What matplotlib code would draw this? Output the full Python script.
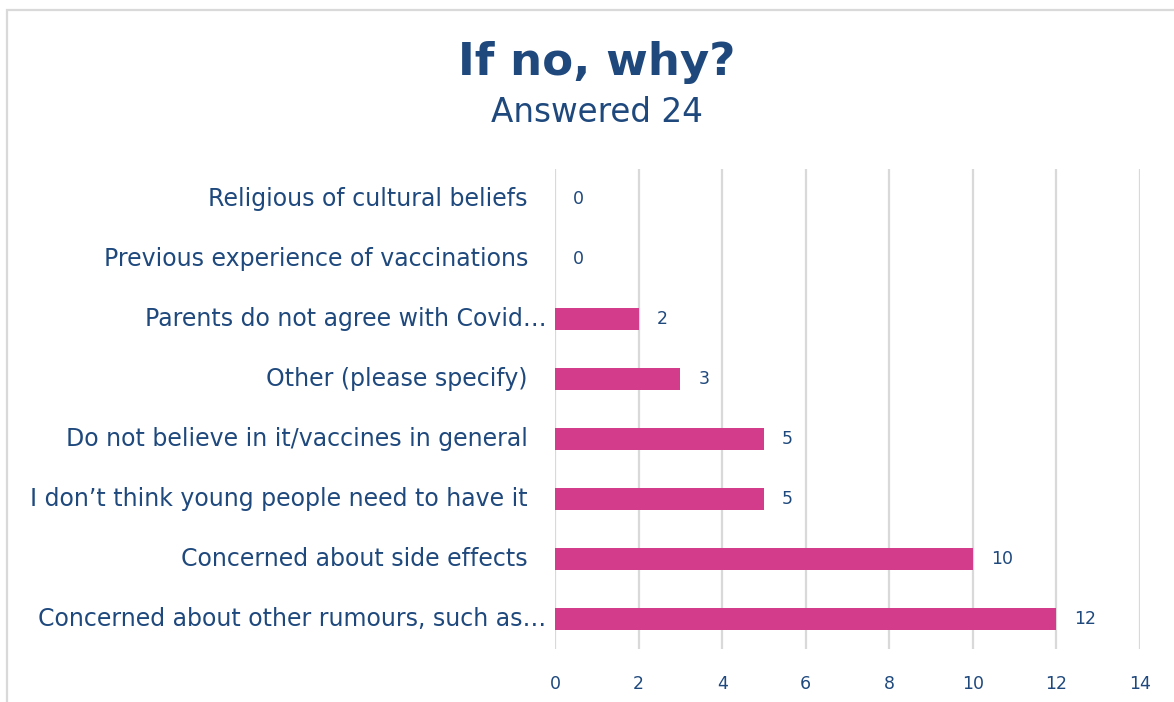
import matplotlib
matplotlib.use("Agg")
import matplotlib.pyplot as plt
from matplotlib.patches import Rectangle

categories = [
    "Concerned about other rumours, such as…",
    "Concerned about side effects",
    "I don’t think young people need to have it",
    "Do not believe in it/vaccines in general",
    "Other (please specify)",
    "Parents do not agree with Covid…",
    "Previous experience of vaccinations",
    "Religious of cultural beliefs",
]
values = [12, 10, 5, 5, 3, 2, 0, 0]
xticks = [0, 2, 4, 6, 8, 10, 12, 14]

TEXT = "#1F497D"
BAR = "#D33C8A"
GRID = "#D9D9D9"
FONT = "DejaVu Sans"

W, H = 1174, 702
fig = plt.figure(figsize=(W / 100, H / 100), dpi=100)
fig.patch.set_facecolor("white")

# outer chart border
fig.patches.append(Rectangle((7 / W, -0.2), 1.2, 1.2 - 10 / H,
                             transform=fig.transFigure, fill=False,
                             edgecolor=GRID, linewidth=1.6))

ax = fig.add_axes([555 / W, 1 - 649 / H, (1140 - 555) / W, (649 - 169) / H])
y = list(range(len(categories)))
ax.barh(y, values, height=0.37, color=BAR, zorder=3)
ax.set_ylim(-0.5, len(categories) - 0.5)
ax.set_xlim(0, 14)
ax.set_xticks(xticks)
ax.set_xticklabels([str(t) for t in xticks], fontsize=12.5, color=TEXT, family=FONT)
ax.set_yticks(y)
ax.set_yticklabels([])
ax.tick_params(axis="y", length=0)
ax.tick_params(axis="x", length=0, pad=19)
for s in ax.spines.values():
    s.set_visible(False)
ax.grid(axis="x", color=GRID, linewidth=1.6, zorder=0)
ax.set_axisbelow(True)

# category labels (truncated ones sit closer to the axis, as in the original)
ytrans = ax.get_yaxis_transform()
for yi, lab in zip(y, categories):
    off = -6 if lab.endswith("…") else -19.5
    ax.annotate(lab, (0, yi), xycoords=ytrans, xytext=(off, 0),
                textcoords="offset points", ha="right", va="center",
                fontsize=17.0, color=TEXT, family=FONT)

for yi, v in zip(y, values):
    ax.annotate(str(v), (v, yi), xytext=(13, 0), textcoords="offset points",
                ha="left", va="center", fontsize=12.5, color=TEXT, family=FONT)

fig.text(597 / W, 1 - 62 / H, "If no, why?", ha="center", va="center",
         fontsize=32.5, fontweight="bold", color=TEXT, family=FONT)
fig.text(597 / W, 1 - 113 / H, "Answered 24", ha="center", va="center",
         fontsize=23.5, color=TEXT, family=FONT)

fig.savefig("out.png", dpi=100, facecolor="white")
